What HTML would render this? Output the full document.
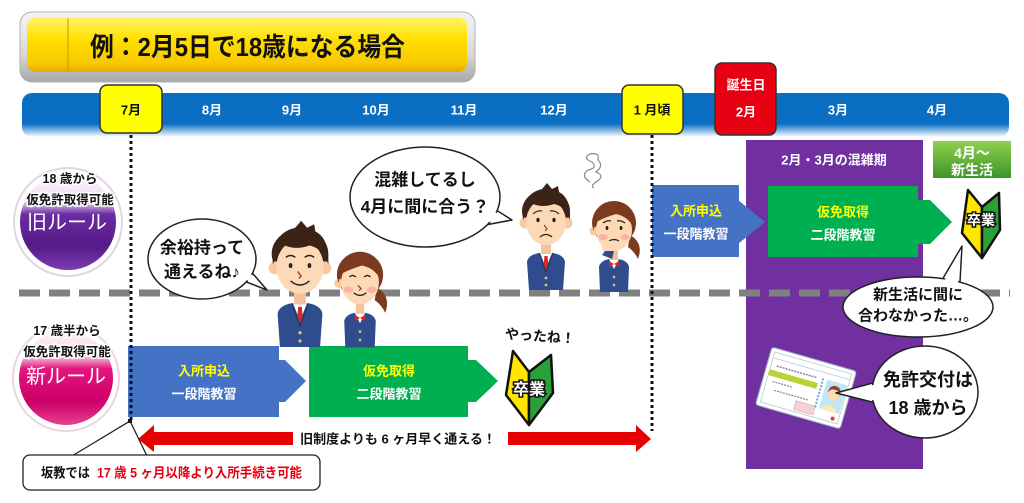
<!DOCTYPE html>
<html><head><meta charset="utf-8">
<style>
html,body{margin:0;padding:0;background:#fff;}
svg{display:block;}
text{font-family:"Liberation Sans","Noto Sans CJK JP",sans-serif;font-weight:bold;}
</style></head><body>
<svg width="1024" height="503" viewBox="0 0 1024 503" xmlns="http://www.w3.org/2000/svg">
<defs>
 <linearGradient id="gOuter" x1="0" y1="0" x2="0" y2="1"><stop offset="0" stop-color="#f6f6f6"/><stop offset="0.6" stop-color="#d8d8d8"/><stop offset="1" stop-color="#a8a8a8"/></linearGradient>
 <linearGradient id="gYel" x1="0" y1="0" x2="0" y2="1"><stop offset="0" stop-color="#fff46a"/><stop offset="0.4" stop-color="#ffe000"/><stop offset="0.85" stop-color="#f7c800"/><stop offset="1" stop-color="#e8a800"/></linearGradient>
 <linearGradient id="gBar" x1="0" y1="0" x2="0" y2="1"><stop offset="0" stop-color="#0a6ec2"/><stop offset="0.7" stop-color="#0a6ec2"/><stop offset="1" stop-color="#ffffff"/></linearGradient>
 <linearGradient id="gGreen" x1="0" y1="0" x2="0" y2="1"><stop offset="0" stop-color="#8fd04f"/><stop offset="1" stop-color="#3d952a"/></linearGradient>
 <linearGradient id="gPur" x1="0" y1="0" x2="0" y2="1"><stop offset="0" stop-color="#fbf6fb"/><stop offset="0.28" stop-color="#eedcf0"/><stop offset="0.42" stop-color="#6c2ba2"/><stop offset="0.75" stop-color="#561a88"/><stop offset="1" stop-color="#7d3cb3"/></linearGradient>
 <linearGradient id="gPink" x1="0" y1="0" x2="0" y2="1"><stop offset="0" stop-color="#fdf3f8"/><stop offset="0.26" stop-color="#f6d6e6"/><stop offset="0.4" stop-color="#e4157f"/><stop offset="0.75" stop-color="#cc0068"/><stop offset="1" stop-color="#e8408f"/></linearGradient>

 <g id="boy">
  <path d="M-17,72 L-19,44 Q-18,37 -7,35 L7,35 Q18,37 19,44 L17,72 Z" fill="#2f4d8e"/>
  <path d="M-6,35 L0,50 L6,35 Z" fill="#fff"/>
  <path d="M-1.6,38 L1.6,38 L2.5,50 L0,53 L-2.5,50 Z" fill="#d42a2a"/>
  <path d="M-7,35 L0,54 M7,35 L0,54" stroke="#1c3262" stroke-width="1" fill="none"/>
  <circle cx="0" cy="60" r="1.4" fill="#d8c27a"/><circle cx="0" cy="67" r="1.4" fill="#d8c27a"/>
  <rect x="-5" y="21" width="10" height="15" fill="#f3c39a"/>
  <ellipse cx="0" cy="-7" rx="24" ry="21" fill="#3b2417"/>
  <circle cx="-21" cy="5" r="5.5" fill="#f8c9a2"/><circle cx="21" cy="5" r="5.5" fill="#f8c9a2"/>
  <ellipse cx="0" cy="4" rx="20" ry="23" fill="#fdd9b5"/>
  <path d="M-23,2 Q-25,-24 -4,-29 L1,-35 L6,-29 L12,-32 L13,-26 Q25,-20 24,2 Q19,-12 8,-14 Q-3,-10 -13,-14 Q-19,-8 -23,2 Z" fill="#3b2417"/>
 </g>
 <g id="girl">
  <path d="M-14,67 L-15,42 Q-14,36 -5,34 L5,34 Q14,36 15,42 L14,67 Z" fill="#2f4d8e"/>
  <path d="M-5,34 L0,44 L5,34 Z" fill="#fff"/>
  <path d="M-5,36 L0,39 L5,36 L5,42 L0,39 L-5,42 Z" fill="#d62b2b"/>
  <circle cx="0" cy="52" r="1.3" fill="#d8c27a"/><circle cx="0" cy="60" r="1.3" fill="#d8c27a"/>
  <rect x="-4" y="20" width="8" height="15" fill="#f3c39a"/>
  <path d="M16,10 Q30,18 24,34 Q20,26 14,22 Z" fill="#7a3b1f"/>
  <ellipse cx="0" cy="-2" rx="22" ry="22" fill="#7a3b1f"/>
  <circle cx="-20" cy="6" r="4.5" fill="#f8c9a2"/>
  <ellipse cx="0" cy="5" rx="18" ry="21" fill="#fdd9b5"/>
  <path d="M-21,6 Q-22,-20 0,-22 Q22,-20 21,6 Q16,-8 2,-11 Q-8,-8 -16,-4 Q-19,0 -21,6 Z" fill="#7a3b1f"/>
  <ellipse cx="-11" cy="12" rx="4.5" ry="3" fill="#f7a9a0" opacity="0.8"/>
  <ellipse cx="11" cy="12" rx="4.5" ry="3" fill="#f7a9a0" opacity="0.8"/>
 </g>
</defs>

<!-- Title -->
<rect x="20" y="12" width="455" height="70" rx="12" fill="url(#gOuter)" stroke="#b0b0b0" stroke-width="1"/>
<rect x="27" y="17" width="440" height="55" rx="9" fill="url(#gYel)"/>
<line x1="68" y1="18" x2="68" y2="71" stroke="#c89a00" stroke-width="1"/>
<text x="90" y="47" font-size="26" dominant-baseline="central" textLength="315" lengthAdjust="spacingAndGlyphs" fill="#111">例：2月5日で18歳になる場合</text>

<!-- Timeline bar -->
<rect x="22" y="93" width="987" height="44" rx="10" fill="url(#gBar)"/>
<rect x="100" y="85" width="62" height="48" rx="7" fill="#ffff00" stroke="#333" stroke-width="1.5"/>
<rect x="622" y="85" width="61" height="49" rx="7" fill="#ffff00" stroke="#333" stroke-width="1.5"/>
<rect x="715" y="63" width="61" height="72" rx="7" fill="#e60012" stroke="#333" stroke-width="1.5"/>
<g font-size="13" text-anchor="middle" dominant-baseline="central" fill="#fff">
 <text x="131" y="110" fill="#111">7月</text>
 <text x="212" y="110">8月</text>
 <text x="292" y="110">9月</text>
 <text x="376" y="110">10月</text>
 <text x="464" y="110">11月</text>
 <text x="554" y="110">12月</text>
 <text x="652" y="110" fill="#111">1 月頃</text>
 <text x="746" y="85">誕生日</text>
 <text x="746" y="112">2月</text>
 <text x="838" y="110">3月</text>
 <text x="937" y="110">4月</text>
</g>

<!-- Purple congestion region -->
<rect x="746" y="140" width="177" height="329" fill="#7030a0"/>
<text x="834" y="160" font-size="13" text-anchor="middle" dominant-baseline="central" fill="#fff">2月・3月の混雑期</text>
<rect x="933" y="141" width="78" height="37" fill="url(#gGreen)"/>
<text x="972" y="153" font-size="14" text-anchor="middle" dominant-baseline="central" fill="#fff">4月〜</text>
<text x="972" y="170" font-size="14" text-anchor="middle" dominant-baseline="central" fill="#fff">新生活</text>

<!-- Dashed divider -->
<line x1="19" y1="293" x2="1010" y2="293" stroke="#808080" stroke-width="7" stroke-dasharray="21 9"/>

<!-- Old rule flow -->
<rect x="652" y="185" width="87" height="72" fill="#4472c4"/>
<polygon points="738,200 765,222 738,244" fill="#4472c4"/>
<rect x="768" y="186" width="150" height="71" fill="#00b050"/>
<polygon points="918,200 930,200 952,222 930,244 918,244" fill="#00b050"/>
<g font-size="13" text-anchor="middle" dominant-baseline="central">
 <text x="696" y="211" fill="#ffff00">入所申込</text>
 <text x="696" y="234" fill="#fff">一段階教習</text>
 <text x="843" y="212" fill="#ffff00">仮免取得</text>
 <text x="843" y="235" fill="#fff">二段階教習</text>
</g>
<!-- old beginner mark -->
<polygon points="968,190 982,207 982,258 962,233" fill="#ffe600" stroke="#111" stroke-width="2.5" stroke-linejoin="round"/>
<polygon points="982,207 999,193 1000,230 982,258" fill="#2aa038" stroke="#111" stroke-width="2.5" stroke-linejoin="round"/>
<text x="981" y="220" font-size="14" text-anchor="middle" dominant-baseline="central" fill="#fff" stroke="#111" stroke-width="3" paint-order="stroke">卒業</text>

<!-- New rule flow -->
<rect x="128" y="346" width="151" height="71" fill="#4472c4"/>
<polygon points="279,360 285,360 306,381 285,402 279,402" fill="#4472c4"/>
<rect x="309" y="346" width="159" height="71" fill="#00b050"/>
<polygon points="468,360 476,360 498,381 476,402 468,402" fill="#00b050"/>
<g font-size="13" text-anchor="middle" dominant-baseline="central">
 <text x="204" y="371" fill="#ffff00">入所申込</text>
 <text x="204" y="394" fill="#fff">一段階教習</text>
 <text x="389" y="371" fill="#ffff00">仮免取得</text>
 <text x="389" y="394" fill="#fff">二段階教習</text>
</g>
<!-- new beginner mark -->
<polygon points="513,351 529,372 529,425 506,395" fill="#ffe600" stroke="#111" stroke-width="2.5" stroke-linejoin="round"/>
<polygon points="529,372 551,355 553,393 529,425" fill="#2aa038" stroke="#111" stroke-width="2.5" stroke-linejoin="round"/>
<text x="529" y="390" font-size="16" text-anchor="middle" dominant-baseline="central" fill="#fff" stroke="#111" stroke-width="3" paint-order="stroke">卒業</text>
<text x="540" y="336" font-size="14" text-anchor="middle" dominant-baseline="central" fill="#111" transform="rotate(4 540 336)">やったね！</text>

<!-- Dotted lines -->
<line x1="131" y1="135" x2="131" y2="421" stroke="#111" stroke-width="3" stroke-dasharray="3 3"/>
<line x1="652" y1="135" x2="652" y2="431" stroke="#111" stroke-width="3" stroke-dasharray="3 3"/>

<!-- Red arrows -->
<polygon points="138,439 154,425 154,432 293,432 293,445 154,445 154,452" fill="#e60000"/>
<polygon points="651,439 636,425 636,432 508,432 508,445 636,445 636,452" fill="#e60000"/>
<text x="398" y="439" font-size="13" text-anchor="middle" dominant-baseline="central" fill="#111">旧制度よりも 6 ヶ月早く通える！</text>

<!-- Callout -->
<rect x="128" y="419" width="4" height="4" fill="#111"/>
<path d="M72,456 L130,421 L147,456" fill="none" stroke="#222" stroke-width="1.3"/>
<rect x="23" y="455" width="297" height="35" rx="7" fill="#fff" stroke="#222" stroke-width="1.3"/>
<text x="41" y="473" font-size="13.5" dominant-baseline="central" fill="#111" textLength="49" lengthAdjust="spacingAndGlyphs">坂教では</text>
<text x="97" y="473" font-size="13.5" dominant-baseline="central" fill="#e60012" textLength="205" lengthAdjust="spacingAndGlyphs">17 歳 5 ヶ月以降より入所手続き可能</text>

<!-- Left circles -->
<circle cx="68" cy="222" r="54" fill="#fff" stroke="#e2d4e2" stroke-width="2"/>
<circle cx="68" cy="222" r="48" fill="url(#gPur)"/>
<g font-size="12.5" text-anchor="middle" dominant-baseline="central" fill="#111" stroke="#fff" stroke-width="3" paint-order="stroke">
 <text x="70" y="179">18 歳から</text>
 <text x="70" y="200">仮免許取得可能</text>
</g>
<text x="67" y="223" font-size="20" text-anchor="middle" dominant-baseline="central" fill="#fff" style="font-weight:normal">旧ルール</text>
<circle cx="66" cy="378" r="53" fill="#fff" stroke="#ecd4e0" stroke-width="2"/>
<circle cx="66" cy="378" r="47" fill="url(#gPink)"/>
<g font-size="12.5" text-anchor="middle" dominant-baseline="central" fill="#111" stroke="#fff" stroke-width="3" paint-order="stroke">
 <text x="67" y="331">17 歳半から</text>
 <text x="67" y="352">仮免許取得可能</text>
</g>
<text x="66" y="377" font-size="20" text-anchor="middle" dominant-baseline="central" fill="#fff" style="font-weight:normal">新ルール</text>

<!-- People -->
<use href="#boy" transform="translate(300,262) scale(1.18)"/>
<g transform="translate(300,262) scale(1.18)" fill="none" stroke="#222" stroke-width="1.2">
 <path d="M-12,-4 Q-8,-7 -4,-4 M4,-4 Q8,-7 12,-4"/>
 <ellipse cx="-8" cy="3" rx="1.6" ry="2.2" fill="#222" stroke="none"/>
 <ellipse cx="8" cy="3" rx="1.6" ry="2.2" fill="#222" stroke="none"/>
 <path d="M-2,8 L1,12 L-1,14" stroke="#8a4a30"/>
 <path d="M-8,16 Q0,23 8,16"/>
</g>
<use href="#girl" transform="translate(360,277) scale(1.05)"/>
<g transform="translate(360,277) scale(1.05)" fill="none" stroke="#222" stroke-width="1.2">
 <path d="M-10,0 Q-7,-3 -4,0 M4,0 Q7,-3 10,0"/>
 <path d="M-2,8 L1,11 L-1,13" stroke="#8a4a30"/>
 <path d="M-6,15 Q0,20 6,15"/>
</g>
<use href="#boy" transform="translate(546,218)"/>
<g transform="translate(546,218)" fill="none" stroke="#222" stroke-width="1.2">
 <path d="M-13,-4 Q-9,-8 -4,-7 M4,-7 Q9,-8 13,-4"/>
 <ellipse cx="-8" cy="2" rx="1.6" ry="2.2" fill="#222" stroke="none"/>
 <ellipse cx="8" cy="2" rx="1.6" ry="2.2" fill="#222" stroke="none"/>
 <path d="M-2,7 L1,11 L-1,13" stroke="#8a4a30"/>
 <path d="M-6,19 Q0,14 6,19"/>
</g>
<use href="#girl" transform="translate(614,225)"/>
<g transform="translate(614,225)" fill="none" stroke="#222" stroke-width="1.2">
 <path d="M-11,-2 Q-7,-5 -3,-4 M3,-4 Q7,-5 11,-2"/>
 <ellipse cx="-7" cy="3" rx="1.4" ry="2" fill="#222" stroke="none"/>
 <ellipse cx="7" cy="3" rx="1.4" ry="2" fill="#222" stroke="none"/>
 <path d="M-5,16 Q0,13 5,16"/>
 <ellipse cx="-5" cy="22" rx="7" ry="6" fill="#fdd9b5" stroke="none"/>
 <path d="M-12,30 L-9,26 L0,26 L-2,34 Z" fill="#2f4d8e" stroke="none"/>
</g>
<path d="M590,182 Q580,176 588,170 Q598,168 592,162 Q582,158 590,154 Q600,152 598,160 Q604,166 596,172 Q606,176 596,182 Q590,186 594,188" fill="none" stroke="#888" stroke-width="1.2"/>

<!-- Speech bubbles -->
<polygon points="236,278 267,290 248,268" fill="#fff" stroke="#222" stroke-width="1.5" stroke-linejoin="round"/>
<ellipse cx="202" cy="259" rx="54" ry="40" fill="#fff" stroke="#222" stroke-width="1.5"/>
<polygon points="238,276 264,288 247,270" fill="#fff"/>
<text x="202" y="248" font-size="17" text-anchor="middle" dominant-baseline="central" fill="#111">余裕持って</text>
<text x="202" y="272" font-size="17" text-anchor="middle" dominant-baseline="central" fill="#111">通えるね♪</text>

<polygon points="480,226 512,220 493,208" fill="#fff" stroke="#222" stroke-width="1.5" stroke-linejoin="round"/>
<ellipse cx="425" cy="197" rx="75" ry="50" fill="#fff" stroke="#222" stroke-width="1.5"/>
<polygon points="482,223 508,219 491,210" fill="#fff"/>
<text x="425" y="180" font-size="17" text-anchor="middle" dominant-baseline="central" fill="#111">混雑してるし</text>
<text x="425" y="207" font-size="17" text-anchor="middle" dominant-baseline="central" fill="#111">4月に間に合う？</text>

<polygon points="942,280 962,246 960,282" fill="#fff" stroke="#222" stroke-width="1.5" stroke-linejoin="round"/>
<ellipse cx="918" cy="307" rx="75" ry="30" fill="#fff" stroke="#222" stroke-width="1.5"/>
<polygon points="944,281 961,250 958,283" fill="#fff"/>
<text x="918" y="295" font-size="15" text-anchor="middle" dominant-baseline="central" fill="#111">新生活に間に</text>
<text x="918" y="316" font-size="15" text-anchor="middle" dominant-baseline="central" fill="#111">合わなかった…。</text>

<!-- License card -->
<g transform="translate(806,388) rotate(16)">
 <rect x="-44" y="-30" width="88" height="60" rx="3" fill="#fff" stroke="#9ab0c0" stroke-width="1"/>
 <rect x="-40" y="-26" width="80" height="52" fill="none" stroke="#b8c8d4" stroke-width="0.8"/>
 <line x1="-40" y1="-20" x2="40" y2="-20" stroke="#b8c8d4" stroke-width="0.8"/>
 <line x1="-34" y1="-13" x2="8" y2="-13" stroke="#888" stroke-width="1.5" stroke-dasharray="2 1"/>
 <rect x="-40" y="-8" width="50" height="6" fill="#b7d432"/>
 <line x1="-34" y1="3" x2="-14" y2="3" stroke="#888" stroke-width="1.2" stroke-dasharray="2 1"/>
 <line x1="-30" y1="11" x2="6" y2="11" stroke="#888" stroke-width="1.2" stroke-dasharray="2 1"/>
 <rect x="-6" y="15" width="20" height="9" fill="#f6d2d8" stroke="#e0a0a8" stroke-width="0.6"/>
 <rect x="18" y="-14" width="21" height="30" fill="#c3e6f6"/>
 <path d="M20,16 Q28,4 37,16 Z" fill="#ffe9b0"/>
 <circle cx="28.5" cy="-1" r="6" fill="#fdd9b5"/>
 <path d="M22,-1 Q22,-10 28.5,-10 Q35,-10 35,-1 Q33,-7 28.5,-6 Q24,-7 22,-1 Z" fill="#8a4a2a"/>
 <line x1="14" y1="-14" x2="14" y2="16" stroke="#5ab0e0" stroke-width="2" stroke-dasharray="2 1.5"/>
 <circle cx="34" cy="22" r="2" fill="#e04040"/>
</g>

<polygon points="880,381 836,393 880,404" fill="#fff" stroke="#222" stroke-width="1.5" stroke-linejoin="round"/>
<ellipse cx="925" cy="392" rx="53" ry="46" fill="#fff" stroke="#222" stroke-width="1.5"/>
<polygon points="882,383 840,393 882,402" fill="#fff"/>
<text x="928" y="380" font-size="18" text-anchor="middle" dominant-baseline="central" fill="#111">免許交付は</text>
<text x="928" y="408" font-size="18" text-anchor="middle" dominant-baseline="central" fill="#111">18 歳から</text>
</svg>
</body></html>
